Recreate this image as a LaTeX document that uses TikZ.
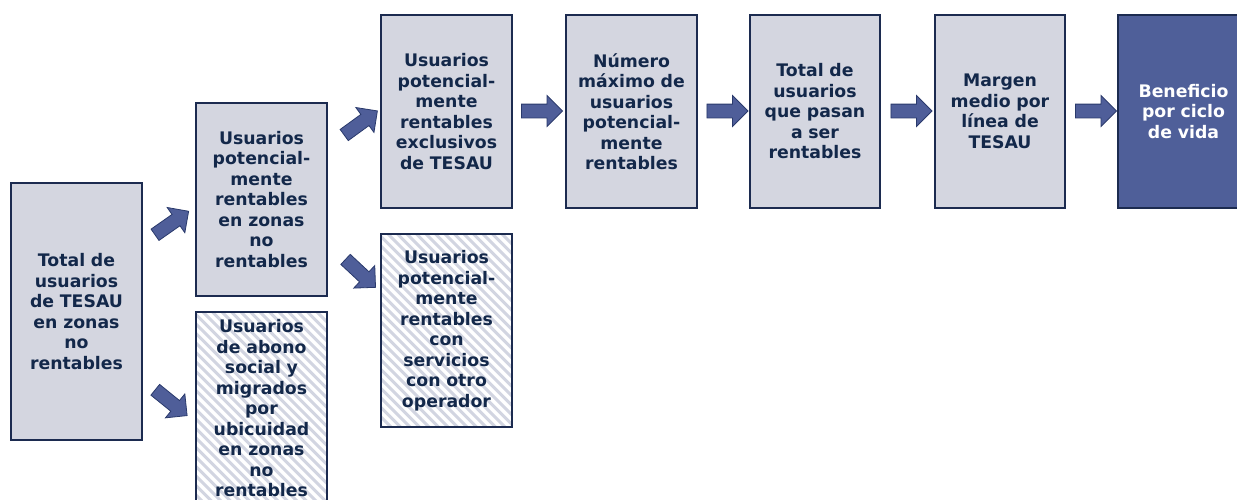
\documentclass[tikz,border=0pt]{standalone}
\usepackage{fontspec}
\setmainfont{DejaVu Sans}
\usetikzlibrary{shapes.arrows}
\definecolor{boxfill}{HTML}{D4D6E0}
\definecolor{boxline}{HTML}{1C2B50}
\definecolor{txt}{HTML}{13284A}
\definecolor{darkfill}{HTML}{4F5F99}
\definecolor{arrfill}{HTML}{4F5E99}
\definecolor{arrline}{HTML}{2A3A6C}
\definecolor{stripe}{HTML}{D2D5E1}
\tikzset{
  box/.style={draw=boxline, line width=1.2pt, fill=boxfill, rectangle, inner sep=0pt,
    minimum width=131pt, minimum height=193pt, text width=125pt, align=center,
    text=txt, font=\fontsize{17.3}{20.5}\selectfont\bfseries},
  darkbox/.style={box, fill=darkfill, text=white},
  hatchbox/.style={box, fill=white, path picture={
      \foreach \k in {-24,...,24} {
        \draw[stripe, line width=3pt]
          ([shift={(\k*9.5-160,-160)}]path picture bounding box.center) -- ++(320,320);
      }}},
  blockarrow/.style={shape=single arrow, draw=arrline, fill=arrfill, line width=0.8pt,
    inner sep=6.5pt, single arrow head extend=8.5pt, single arrow head indent=0pt,
    minimum height=41pt}
}
\begin{document}
\begin{tikzpicture}[x=1pt,y=-1pt]
\useasboundingbox (0,0) rectangle (1237,499);
\node[box, minimum height=257pt] (A) at (76.5,311.5) {Total de\\usuarios\\de TESAU\\en zonas\\no\\rentables};
\node[box] (B) at (261.5,199.5) {Usuarios\\potencial-\\mente\\rentables\\en zonas\\no\\rentables};
\node[hatchbox] (C) at (261.5,408.5) {Usuarios\\de abono\\social y\\migrados\\por\\ubicuidad\\en zonas\\no\\rentables};
\node[box] (D) at (446.5,111.5) {Usuarios\\potencial-\\mente\\rentables\\exclusivos\\de TESAU};
\node[hatchbox] (E) at (446.5,330.5) {Usuarios\\potencial-\\mente\\rentables\\con\\servicios\\con otro\\operador};
\node[box] (F) at (631.5,111.5) {Número\\máximo de\\usuarios\\potencial-\\mente\\rentables};
\node[box, minimum width=130pt] (G) at (815,111.5) {Total de\\usuarios\\que pasan\\a ser\\rentables};
\node[box, minimum width=130pt] (H) at (1000,111.5) {Margen\\medio por\\línea de\\TESAU};
\node[darkbox] (I) at (1183.5,111.5) {Beneficio\\por ciclo\\de vida};
% block arrows
\node[blockarrow, rotate=35] (aAB) at (169,225) {};
\node[blockarrow, rotate=-39] (aAC) at (168.5,400.5) {};
\node[blockarrow, rotate=36] (aBD) at (358,125) {};
\node[blockarrow, rotate=-43] (aBE) at (358,271) {};
\node[blockarrow] (aDF) at (538.5,111) {};
\node[blockarrow] (aFG) at (724,111) {};
\node[blockarrow] (aGH) at (908,111) {};
\node[blockarrow] (aHI) at (1092.5,111) {};
\end{tikzpicture}
\end{document}
